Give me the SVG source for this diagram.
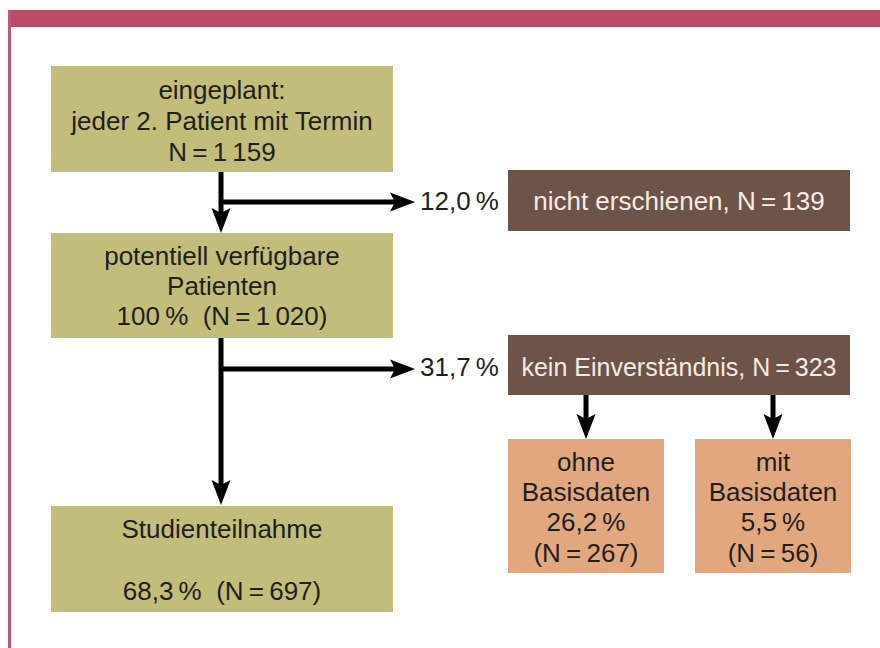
<svg xmlns="http://www.w3.org/2000/svg" width="880" height="648" viewBox="0 0 880 648">
  <style>
    .t { font-family: "Liberation Sans", Arial, sans-serif; font-size: 26px; fill: #1f1f1f; text-anchor: middle; }
    .lt { fill: #f3ece4; }
    .olive { fill: #c2bd7a; }
    .brown { fill: #6e5348; }
    .salmon { fill: #e3a77f; }
    .conn { stroke: #000; stroke-width: 5; fill: none; }
  </style>
  <defs>
    <marker id="ah" markerUnits="userSpaceOnUse" markerWidth="26" markerHeight="20" refX="5" refY="9.5" orient="auto" viewBox="0 0 26 19" overflow="visible">
      <path d="M0,0 L25,9.5 L0,19 L5,9.5 Z" fill="#000"/>
    </marker>
  </defs>
  <rect x="0" y="0" width="880" height="648" fill="#fff"/>
  <g id="frame">
    <rect x="8" y="10" width="872" height="17" fill="#b94d69"/>
    <rect x="8" y="10" width="3" height="638" fill="#c0577a"/>
  </g>

  <g id="connectors">
    <line class="conn" x1="221" y1="172" x2="221" y2="213" marker-end="url(#ah)"/>
    <line class="conn" x1="221" y1="202" x2="395" y2="202" marker-end="url(#ah)"/>
    <line class="conn" x1="221" y1="338" x2="221" y2="485" marker-end="url(#ah)"/>
    <line class="conn" x1="221" y1="369" x2="395" y2="369" marker-end="url(#ah)"/>
    <line class="conn" x1="586" y1="395" x2="586" y2="419" marker-end="url(#ah)"/>
    <line class="conn" x1="773" y1="395" x2="773" y2="419" marker-end="url(#ah)"/>
    <text class="t" x="499" y="210" style="text-anchor:end">12,0&#8201;%</text>
    <text class="t" x="499" y="376" style="text-anchor:end">31,7&#8201;%</text>
  </g>

  <g id="eingeplant">
    <rect class="olive" x="51" y="66" width="342" height="106"/>
    <text class="t" x="222" y="99">eingeplant:</text>
    <text class="t" x="222" y="130">jeder 2. Patient mit Termin</text>
    <text class="t" x="222" y="161">N&#8201;=&#8201;1&#8201;159</text>
  </g>

  <g id="verfuegbar">
    <rect class="olive" x="51" y="233" width="342" height="105"/>
    <text class="t" x="222" y="265">potentiell verfügbare</text>
    <text class="t" x="222" y="295">Patienten</text>
    <text class="t" x="222" y="325" xml:space="preserve">100&#8201;%  (N&#8201;=&#8201;1&#8201;020)</text>
  </g>

  <g id="studienteilnahme">
    <rect class="olive" x="51" y="506" width="342" height="106"/>
    <text class="t" x="222" y="538">Studienteilnahme</text>
    <text class="t" x="222" y="600" xml:space="preserve">68,3&#8201;%  (N&#8201;=&#8201;697)</text>
  </g>

  <g id="nicht-erschienen">
    <rect class="brown" x="508" y="170" width="342" height="61"/>
    <text class="t lt" x="679" y="210">nicht erschienen, N&#8201;=&#8201;139</text>
  </g>

  <g id="kein-einverstaendnis">
    <rect class="brown" x="508" y="335" width="342" height="60"/>
    <text class="t lt" x="679" y="376" style="font-size:25px">kein Einverständnis, N&#8201;=&#8201;323</text>
  </g>

  <g id="ohne-basisdaten">
    <rect class="salmon" x="508" y="439" width="156" height="134"/>
    <text class="t" x="586" y="471">ohne</text>
    <text class="t" x="586" y="501">Basisdaten</text>
    <text class="t" x="586" y="531">26,2&#8201;%</text>
    <text class="t" x="586" y="562">(N&#8201;=&#8201;267)</text>
  </g>

  <g id="mit-basisdaten">
    <rect class="salmon" x="695" y="439" width="156" height="134"/>
    <text class="t" x="773" y="471">mit</text>
    <text class="t" x="773" y="501">Basisdaten</text>
    <text class="t" x="773" y="531">5,5&#8201;%</text>
    <text class="t" x="773" y="562">(N&#8201;=&#8201;56)</text>
  </g>
</svg>
